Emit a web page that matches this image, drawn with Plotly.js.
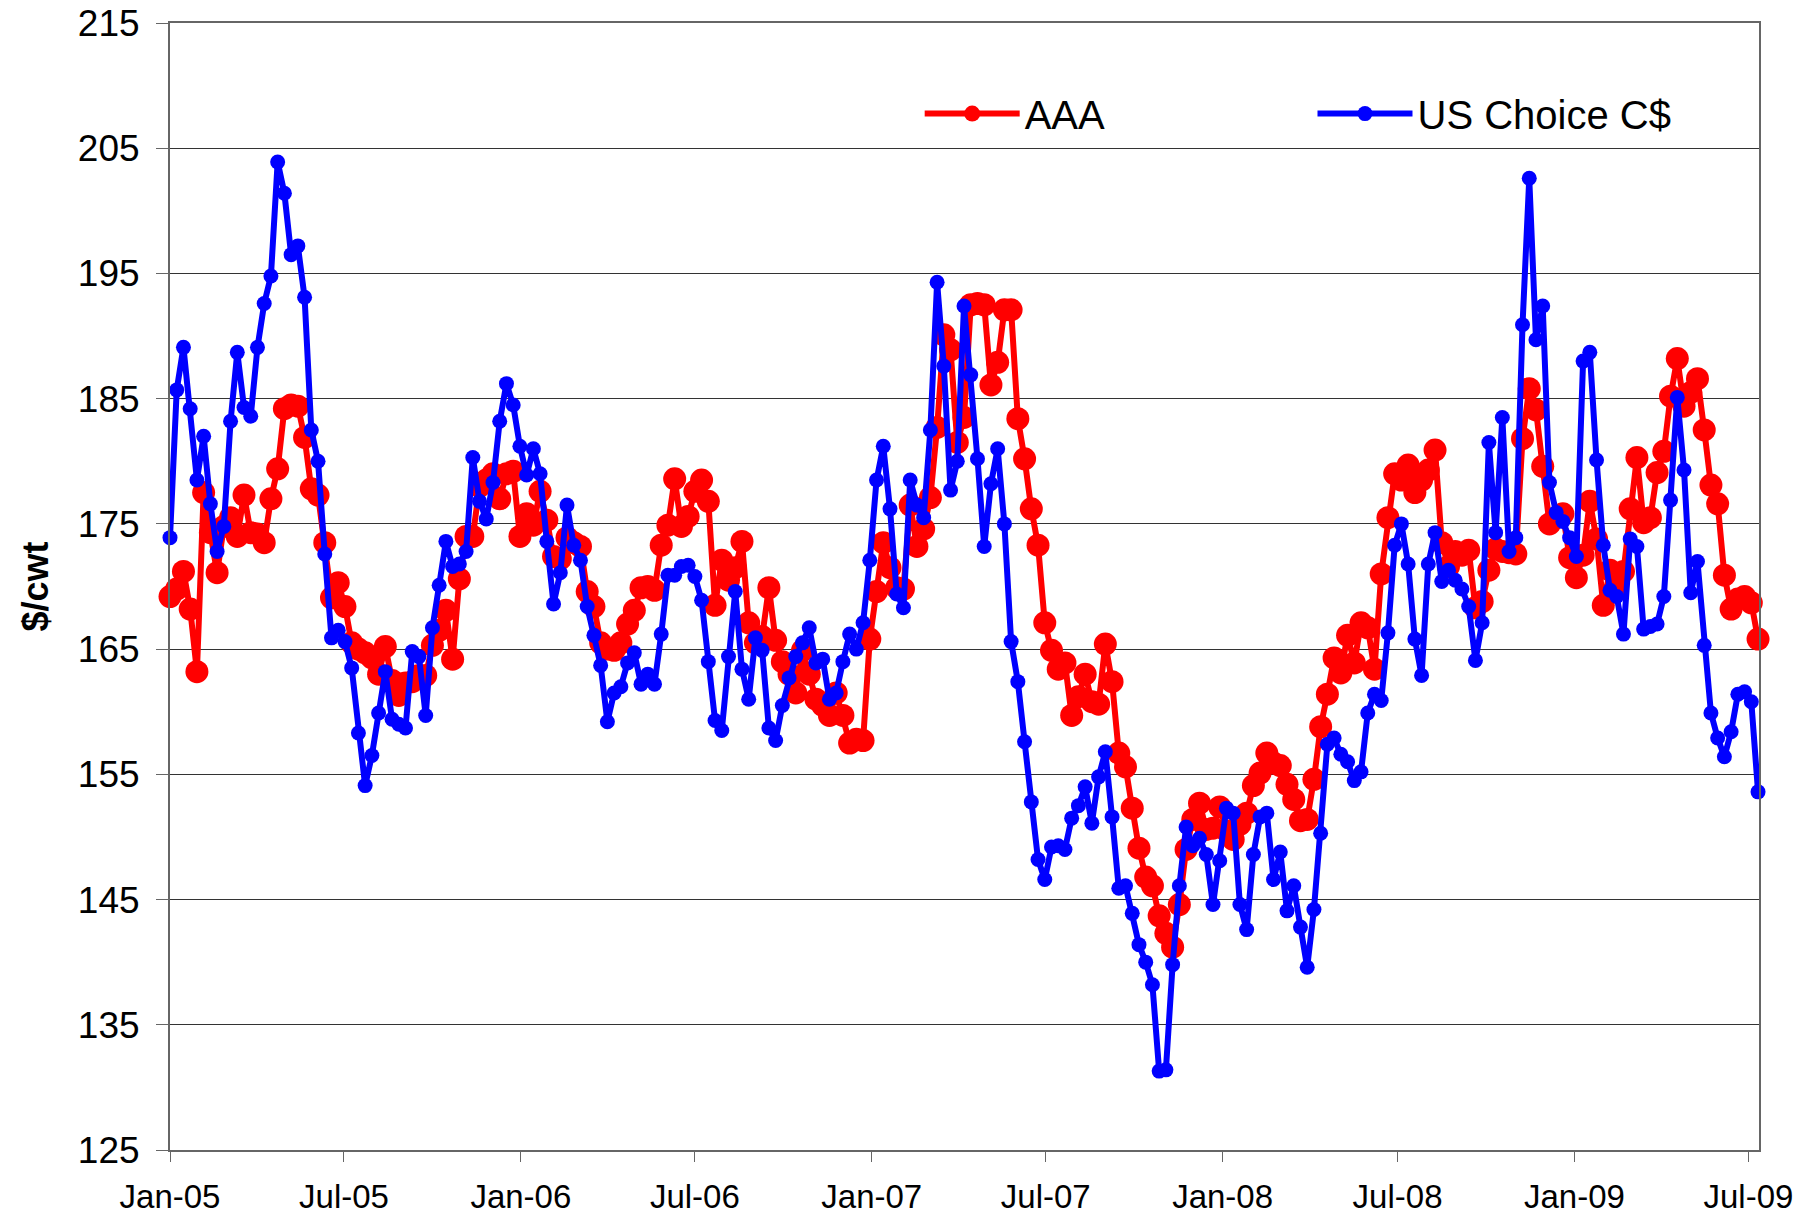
<!DOCTYPE html>
<html>
<head>
<meta charset="utf-8">
<script src="https://cdn.plot.ly/plotly-3.0.1.min.js"></script>
<style>
html, body { margin: 0; padding: 0; background: #ffffff; }
#chart { width: 1818px; height: 1217px; }
</style>
</head>
<body>
<div id="chart"></div>
<script>
// Weekly observations, first week of January 2005 through mid July 2009
const firstWeek = '2005-01-01';

const aaa = [
169.2,169.8,171.2,168.2,163.2,177.5,174.3,171.1,174.8,175.5,
174.0,177.3,174.3,174.2,173.5,177.0,179.4,184.2,184.5,184.4,
181.9,177.8,177.3,173.5,169.1,170.3,168.4,165.5,165.0,164.7,
164.3,163.0,165.2,162.5,161.3,162.3,162.4,162.9,162.9,165.3,
166.5,168.1,164.2,170.6,174.0,174.0,178.0,178.5,179.0,177.0,
179.0,179.2,174.0,175.8,174.9,177.6,175.3,172.4,172.2,173.9,
173.5,173.2,169.6,168.4,165.5,165.0,164.9,165.5,167.0,168.1,
169.9,170.0,169.7,173.3,174.9,178.6,174.8,175.6,177.6,178.5,
176.8,168.5,172.1,170.5,171.5,173.6,167.1,165.5,166.0,169.9,
165.7,164.0,163.0,161.5,164.9,163.0,161.0,160.5,159.7,161.5,
159.7,157.5,157.8,157.7,165.8,169.6,173.5,171.5,169.9,169.8,
176.5,173.2,174.6,177.1,182.7,190.1,188.9,181.5,183.5,192.5,
192.6,192.5,186.1,187.9,192.1,192.1,183.4,180.2,176.2,173.3,
167.1,164.9,163.4,163.9,159.7,161.2,163.0,160.8,160.6,165.4,
162.4,156.7,155.6,152.3,149.1,146.8,146.1,143.7,142.3,141.2,
144.6,149.0,151.4,152.7,150.6,150.7,152.4,150.5,149.8,151.0,
151.9,154.1,155.1,156.7,155.9,155.7,154.2,153.0,151.3,151.4,
154.6,158.8,161.4,164.3,163.1,166.1,163.9,167.1,166.7,163.4,
171.0,175.5,179.0,178.5,179.7,177.5,178.5,179.3,180.9,173.5,
171.6,172.8,172.5,172.9,168.3,168.8,171.3,173.0,172.8,172.7,
172.6,181.8,185.8,184.1,179.6,175.0,175.5,175.8,172.3,170.7,
172.5,176.8,173.8,168.5,171.3,170.0,171.2,176.2,180.3,175.1,
175.5,179.1,180.8,185.2,188.2,184.4,185.5,186.6,182.5,178.1,
176.6,170.9,168.2,169.0,169.2,168.7,165.8
];

const usChoice = [
173.9,185.7,189.1,184.2,178.5,182.0,176.6,172.8,174.8,183.2,
188.7,184.3,183.6,189.1,192.6,194.8,203.9,201.4,196.5,197.2,
193.1,182.5,180.0,172.6,165.9,166.5,165.6,163.5,158.3,154.1,
156.5,159.9,163.2,159.4,159.0,158.7,164.8,164.4,159.7,166.7,
170.1,173.6,171.6,171.8,172.8,180.3,176.8,175.4,178.3,183.2,
186.2,184.5,181.2,178.9,181.0,179.0,173.6,168.6,171.1,176.5,
173.3,172.1,168.4,166.1,163.7,159.2,161.5,162.0,163.9,164.7,
162.2,163.0,162.2,166.2,170.9,170.9,171.6,171.7,170.8,168.9,
164.0,159.3,158.5,164.4,169.6,163.4,161.0,165.9,164.9,158.7,
157.7,160.5,162.7,164.4,165.5,166.7,163.9,164.2,161.0,161.5,
164.0,166.2,165.0,167.1,172.1,178.5,181.2,176.2,169.4,168.3,
178.5,176.5,175.5,182.5,194.3,187.6,177.7,180.0,192.4,186.9,
180.2,173.2,178.2,181.0,175.0,165.6,162.4,157.6,152.8,148.2,
146.6,149.2,149.3,149.0,151.5,152.5,154.0,151.1,154.8,156.8,
151.6,145.9,146.1,143.9,141.4,140.0,138.2,131.3,131.4,139.8,
146.1,150.8,149.3,149.9,148.6,144.6,148.1,152.3,151.9,144.6,
142.6,148.6,151.6,151.9,146.6,148.8,144.1,146.1,142.8,139.6,
144.2,150.3,157.4,157.9,156.6,156.0,154.5,155.2,159.9,161.4,
160.9,166.3,173.3,175.0,171.8,165.8,162.9,171.8,174.3,170.4,
171.3,170.5,169.8,168.4,164.1,167.1,181.5,174.3,183.5,172.8,
173.9,190.9,202.6,189.7,192.4,178.3,175.9,175.2,173.9,172.4,
188.0,188.7,180.1,173.3,169.7,169.2,166.2,173.8,173.2,166.6,
166.8,167.0,169.2,176.9,185.1,179.3,169.5,172.0,165.3,159.9,
157.9,156.4,158.4,161.4,161.6,160.8,153.6
];

const tickDates = ['2005-01-01','2005-07-01','2006-01-01','2006-07-01','2007-01-01',
                   '2007-07-01','2008-01-01','2008-07-01','2009-01-01','2009-07-01'];
const tickLabels = ['Jan-05','Jul-05','Jan-06','Jul-06','Jan-07',
                    'Jul-07','Jan-08','Jul-08','Jan-09','Jul-09'];
const yTicks = [125,135,145,155,165,175,185,195,205,215];
const seriesNames = ['AAA', 'US Choice C$'];

function weeklyDates(start, n) {
  const t0 = Date.parse(start + 'T00:00:00Z');
  const out = [];
  for (let i = 0; i < n; i++) {
    out.push(new Date(t0 + i * 7 * 86400000).toISOString().slice(0, 10));
  }
  return out;
}
const weeks = weeklyDates(firstWeek, aaa.length);

const FONT = '"Liberation Sans", Arial, Helvetica, sans-serif';

const traces = [
  {
    type: 'scatter', mode: 'lines+markers', name: seriesNames[0],
    x: weeks, y: aaa, cliponaxis: false,
    line: { color: '#ff0000', width: 6 },
    marker: { color: '#ff0000', size: 23 },
    legend: 'legend'
  },
  {
    type: 'scatter', mode: 'lines+markers', name: seriesNames[1],
    x: weeks, y: usChoice, cliponaxis: false,
    line: { color: '#0000ff', width: 6 },
    marker: { color: '#0000ff', size: 15 },
    legend: 'legend2'
  }
];

const legendCommon = {
  orientation: 'h', bgcolor: '#ffffff', borderwidth: 0,
  font: { family: FONT, size: 40, color: '#000000' },
  itemwidth: 95, yanchor: 'middle', xanchor: 'left', y: 0.9196
};

const layout = {
  width: 1818, height: 1217,
  paper_bgcolor: '#ffffff', plot_bgcolor: '#ffffff',
  margin: { l: 170, r: 59, t: 23, b: 67, pad: 0 },
  font: { family: FONT, color: '#000000' },
  showlegend: true,
  legend: Object.assign({}, legendCommon, { x: 0.4718 }),
  legend2: Object.assign({}, legendCommon, { x: 0.719 }),
  xaxis: {
    type: 'date',
    range: ['2005-01-01', '2009-07-12'],
    tickmode: 'array', tickvals: tickDates, ticktext: tickLabels,
    ticks: 'outside', ticklen: 10, tickwidth: 1, tickcolor: '#666666',
    showgrid: false, zeroline: false,
    showline: true, linecolor: '#666666', linewidth: 2, mirror: true,
    tickfont: { family: FONT, size: 33, color: '#000000' },
    ticklabelstandoff: 6
  },
  yaxis: {
    range: [125, 215],
    tickmode: 'array', tickvals: yTicks, ticktext: yTicks.map(String),
    ticks: 'outside', ticklen: 12, tickwidth: 1, tickcolor: '#666666',
    showgrid: true, gridcolor: '#333333', gridwidth: 1,
    zeroline: false,
    showline: true, linecolor: '#666666', linewidth: 2, mirror: true,
    tickfont: { family: FONT, size: 37, color: '#000000' },
    ticklabelstandoff: 9,
    title: { text: '$/cwt', font: { family: FONT, size: 36, weight: 'bold', color: '#000000' }, standoff: 18 }
  }
};

Plotly.newPlot('chart', traces, layout, { displayModeBar: false, staticPlot: true });
</script>
</body>
</html>
